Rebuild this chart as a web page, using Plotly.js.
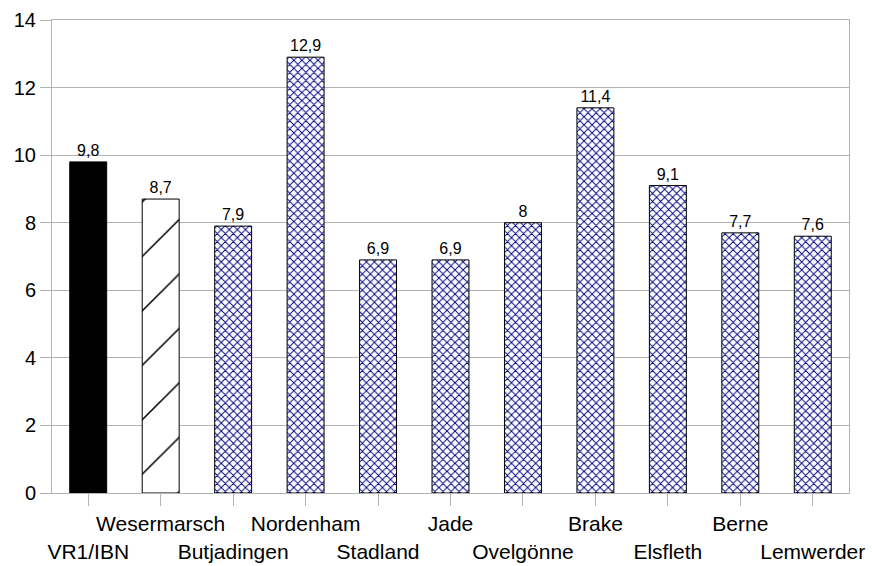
<!DOCTYPE html>
<html>
<head>
<meta charset="utf-8">
<script src="https://cdn.plot.ly/plotly-3.0.1.min.js"></script>
<style>html,body{margin:0;padding:0;background:#fff;}#chart{width:872px;height:566px;}</style>
</head>
<body>
<div id="chart"></div>
<script>
var categories = ["VR1/IBN","Wesermarsch","Butjadingen","Nordenham","Stadland","Jade","Ovelgönne","Brake","Elsfleth","Berne","Lemwerder"];
var values = [9.8, 8.7, 7.9, 12.9, 6.9, 6.9, 8, 11.4, 9.1, 7.7, 7.6];
var valueLabels = ["9,8","8,7","7,9","12,9","6,9","6,9","8","11,4","9,1","7,7","7,6"];
var yTicks = [0, 2, 4, 6, 8, 10, 12, 14];

var tickText = categories.map(function(c, i){
  return (i % 2 === 0) ? " <br>" + c : c + "<br> ";
});

function pick(arr, idx){ return idx.map(function(i){ return arr[i]; }); }
var FONT = "Liberation Sans, Arial, sans-serif";

function makeTrace(idx, marker){
  return {
    type: "bar",
    x: pick(categories, idx),
    y: pick(values, idx),
    text: pick(valueLabels, idx),
    textposition: "outside",
    cliponaxis: false,
    textfont: {family: FONT, size: 16, color: "#000"},
    marker: marker,
    hoverinfo: "skip"
  };
}

var restIdx = [];
for (var i = 2; i < categories.length; i++) restIdx.push(i);

var traces = [
  makeTrace([0], {color: "#000000", line: {color: "#000", width: 1}}),
  makeTrace([1], {color: "#ffffff", line: {color: "#000", width: 1},
    pattern: {shape: "/", fgcolor: "#000000", bgcolor: "#ffffff", size: 38.5, solidity: 0.04}}),
  makeTrace(restIdx, {color: "#ffffff", line: {color: "#000", width: 1},
    pattern: {shape: "x", fgcolor: "#00007f", bgcolor: "#ffffff", size: 5.7, solidity: 0.3}})
];

var layout = {
  width: 872, height: 566,
  margin: {l: 52, r: 23, t: 20, b: 73},
  paper_bgcolor: "#fff", plot_bgcolor: "#fff",
  barmode: "overlay",
  bargap: 0.49,
  showlegend: false,
  font: {family: FONT, color: "#000"},
  xaxis: {
    type: "category",
    categoryorder: "array", categoryarray: categories,
    tickmode: "array", tickvals: categories, ticktext: tickText,
    tickangle: 0,
    ticks: "outside", ticklen: 12, tickcolor: "#b3b3b3", tickwidth: 1,
    tickfont: {size: 21},
    showline: true, linecolor: "#b3b3b3", linewidth: 1, mirror: true,
    showgrid: false, zeroline: false
  },
  yaxis: {
    range: [0, 14], tickmode: "array", tickvals: yTicks,
    ticks: "outside", ticklen: 11, tickcolor: "#b3b3b3",
    tickfont: {size: 20},
    showgrid: true, gridcolor: "#b3b3b3", gridwidth: 1,
    showline: true, linecolor: "#b3b3b3", mirror: true,
    zeroline: false
  }
};

Plotly.newPlot("chart", traces, layout, {displayModeBar: false, staticPlot: true});
</script>
</body>
</html>
